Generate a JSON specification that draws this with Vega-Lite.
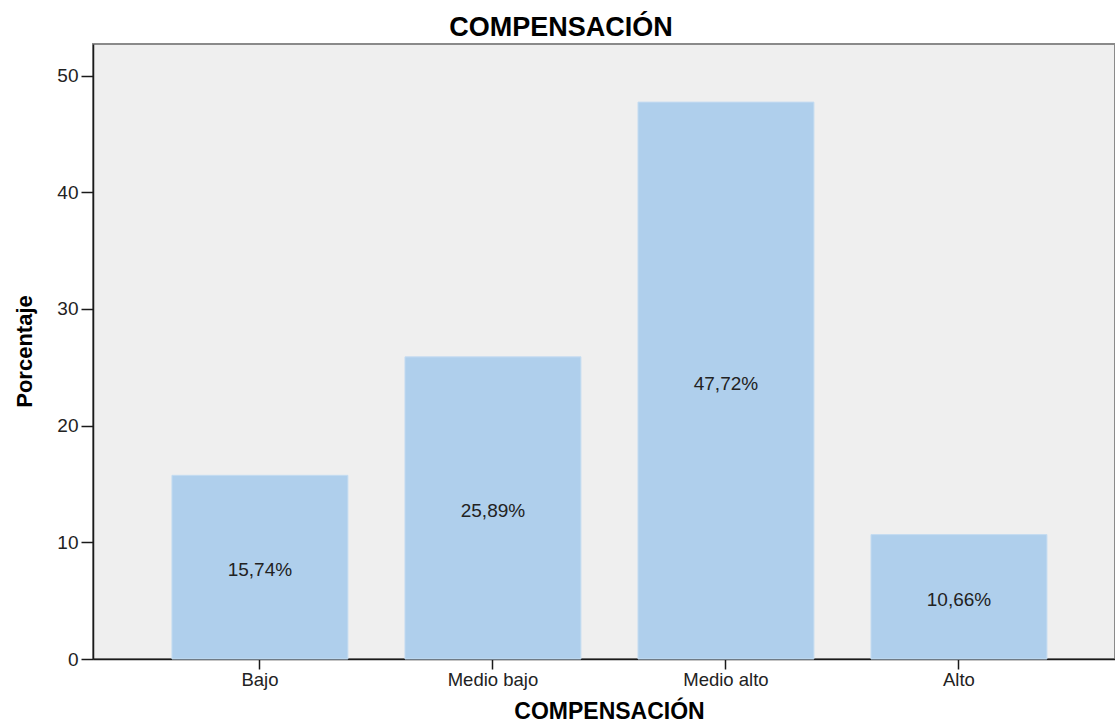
{
  "$schema": "https://vega.github.io/schema/vega-lite/v6.json",
  "autosize": "none",
  "padding": {"left": 93, "top": 44, "right": 0, "bottom": 65},
  "width": 1022,
  "height": 615,
  "background": "white",
  "title": {
    "text": "COMPENSACIÓN",
    "font": "Liberation Sans",
    "fontSize": 27,
    "fontWeight": "bold",
    "color": "#000000",
    "anchor": "middle",
    "dx": -43,
    "dy": 26,
    "baseline": "alphabetic",
    "offset": 7
  },
  "config": {
    "view": {"fill": "#EFEFEF", "stroke": "#8A8A8A", "strokeWidth": 2},
    "axis": {
      "labelFont": "Liberation Sans",
      "titleFont": "Liberation Sans",
      "labelColor": "#222222",
      "titleColor": "#000000",
      "domainColor": "#1A1A1A",
      "domainWidth": 1.5,
      "tickColor": "#1A1A1A",
      "tickWidth": 1.5,
      "grid": false
    }
  },
  "data": {
    "values": [
      {"nivel": "Bajo", "porcentaje": 15.74, "etiqueta": "15,74%"},
      {"nivel": "Medio bajo", "porcentaje": 25.89, "etiqueta": "25,89%"},
      {"nivel": "Medio alto", "porcentaje": 47.72, "etiqueta": "47,72%"},
      {"nivel": "Alto", "porcentaje": 10.66, "etiqueta": "10,66%"}
    ]
  },
  "encoding": {
    "x": {
      "field": "nivel",
      "type": "nominal",
      "sort": ["Bajo", "Medio bajo", "Medio alto", "Alto"],
      "scale": {"paddingInner": 0.245, "paddingOuter": 0.3155, "align": 0.537},
      "axis": {
        "title": "COMPENSACIÓN",
        "titleFontSize": 23,
        "titleFontWeight": "bold",
        "titleX": 516,
        "titleY": 59,
        "titleAlign": "center",
        "titleBaseline": "alphabetic",
        "labelAngle": 0,
        "labelFontSize": 18.5,
        "labelPadding": 1,
        "tickSize": 10
      }
    }
  },
  "layer": [
    {
      "mark": {"type": "bar", "color": "#AFCFEC", "stroke": "#C4DCF1", "strokeWidth": 1},
      "encoding": {
        "y": {
          "field": "porcentaje",
          "type": "quantitative",
          "scale": {"domain": [0, 52.7], "nice": false, "zero": true},
          "axis": {
            "title": "Porcentaje",
            "titleFontSize": 22,
            "titleFontWeight": "bold",
            "titleAngle": -90,
            "titleX": -69,
            "titleY": 307,
            "titleAlign": "center",
            "titleBaseline": "middle",
            "values": [0, 10, 20, 30, 40, 50],
            "labelFontSize": 19,
            "labelPadding": 3,
            "tickSize": 12
          }
        }
      }
    },
    {
      "mark": {
        "type": "text",
        "font": "Liberation Sans",
        "fontSize": 19,
        "color": "#222222",
        "baseline": "middle",
        "dy": 3
      },
      "encoding": {
        "y": {
          "field": "porcentaje",
          "type": "quantitative",
          "scale": {"domain": [0, 105.4], "nice": false, "zero": true},
          "axis": null
        },
        "text": {"field": "etiqueta", "type": "nominal"}
      }
    }
  ],
  "resolve": {"scale": {"y": "independent"}}
}
